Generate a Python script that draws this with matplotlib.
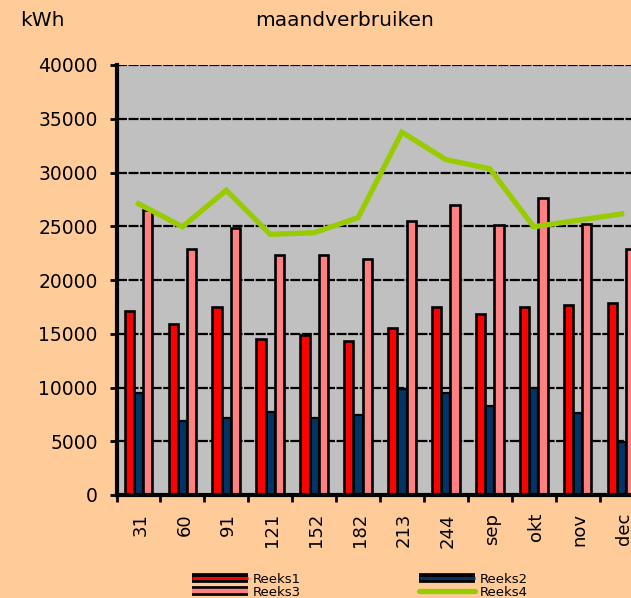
import numpy as np
import matplotlib
matplotlib.use("Agg")
import matplotlib.pyplot as plt
from matplotlib.lines import Line2D
import matplotlib.patheffects as pe
import matplotlib.transforms as mtransforms

categories = ["31", "60", "91", "121", "152", "182", "213", "244", "sep", "okt", "nov", "dec"]
reeks1 = [17100, 15950, 17450, 14500, 14850, 14350, 15550, 17450, 16800, 17450, 17650, 17850]
reeks2 = [9500, 6850, 7200, 7700, 7200, 7450, 9850, 9450, 8300, 10000, 7600, 4900]
reeks3 = [26550, 22850, 24800, 22300, 22300, 22000, 25450, 27000, 25100, 27600, 25250, 22850]
reeks4 = [27100, 24950, 28350, 24250, 24400, 25800, 33750, 31200, 30350, 24950, 25550, 26150]
series_names = ["Reeks1", "Reeks2", "Reeks3", "Reeks4"]
yticks = list(range(0, 40001, 5000))

BG = "#FFCC99"
C1, C2, C3, C4 = "#FF0000", "#003366", "#FF8080", "#99CC00"

W, H = 631, 598
fig = plt.figure(figsize=(W / 100, H / 100), dpi=100, facecolor=BG)
ax = fig.add_axes([116.5 / W, (H - 495) / H, 527 / W, 430 / H])
ax.set_facecolor("#C0C0C0")
ax.set_xlim(0, len(categories))
ax.set_ylim(0, 40000)

idx = np.arange(len(categories))
center = idx + 0.5
bw = 0.21
step = 0.21
ax.bar(center, reeks2, width=bw, color=C2, edgecolor="black", linewidth=1.6, zorder=2)
ax.bar(center - step, reeks1, width=bw, color=C1, edgecolor="black", linewidth=1.9, zorder=3)
ax.bar(center + step, reeks3, width=bw, color=C3, edgecolor="black", linewidth=1.9, zorder=3)
ax.plot(idx + 0.5, reeks4, color=C4, linewidth=3.8, zorder=4, solid_joinstyle="miter")

ax.set_axisbelow(True)
ax.yaxis.grid(True, color="black", linestyle=(0, (4.5, 0.7)), linewidth=1.6)
ax.xaxis.grid(False)

for s in ["top", "right"]:
    ax.spines[s].set_visible(False)
for s in ["left", "bottom"]:
    ax.spines[s].set_linewidth(3)
    ax.spines[s].set_zorder(5)

ax.set_yticks(yticks)
ax.set_yticklabels([str(v) for v in yticks])
ax.tick_params(axis="y", direction="out", length=5, width=2, pad=8.5, labelsize=13.5)

ax.set_xticks(np.arange(0, len(categories) + 1))
ax.set_xticklabels([])
ax.set_xticks(idx + 0.5, minor=True)
ax.set_xticklabels(categories, minor=True, rotation=90)
ax.tick_params(axis="x", which="major", direction="out", length=5, width=2)
ax.tick_params(axis="x", which="minor", length=0, pad=13, labelsize=13)
shift = mtransforms.ScaledTranslation(2 / 100, 0, fig.dpi_scale_trans)
for lab in ax.xaxis.get_minorticklabels():
    lab.set_transform(lab.get_transform() + shift)

fig.text(345 / W, 1 - 21 / H, "maandverbruiken", ha="center", va="center", fontsize=14.5)
fig.text(20 / W, 1 - 21 / H, "kWh", ha="left", va="center", fontsize=14.5)

stroke = [pe.Stroke(linewidth=7, foreground="black"), pe.Normal()]
h1 = Line2D([], [], color=C1, linewidth=2.2, path_effects=stroke, solid_capstyle="butt")
h2 = Line2D([], [], color=C2, linewidth=2.2, path_effects=stroke, solid_capstyle="butt")
h3 = Line2D([], [], color=C3, linewidth=3.2, path_effects=stroke, solid_capstyle="butt")
h4 = Line2D([], [], color=C4, linewidth=3.8, solid_capstyle="round")
handles = [h1, h3, h2, h4]
labels = [series_names[0], series_names[2], series_names[1], series_names[3]]
fig.legend(handles, labels, loc="upper left", bbox_to_anchor=(192 / W, 1 - 573 / H),
           ncol=2, frameon=False, fontsize=9.5, handlelength=4.25, handletextpad=0.38,
           columnspacing=8.9, labelspacing=0.0, borderpad=0, borderaxespad=0)

fig.savefig("out.png", dpi=100, facecolor=BG)
